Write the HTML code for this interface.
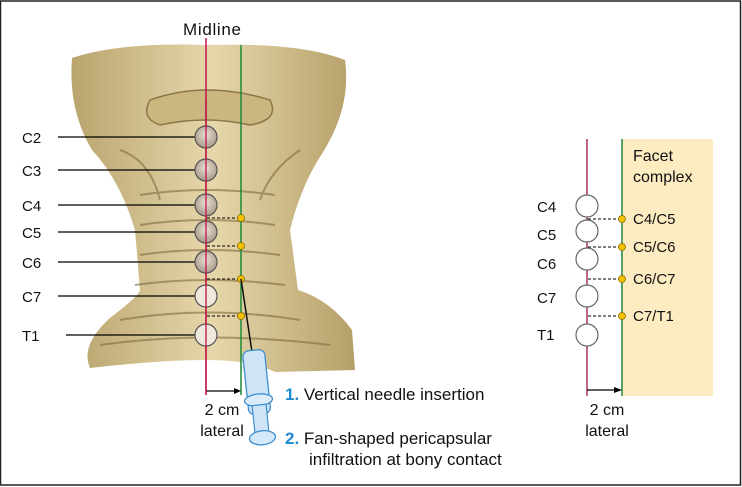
<!DOCTYPE html>
<html><head><style>
html,body{margin:0;padding:0;background:#fff;}
svg{display:block;font-family:"Liberation Sans",sans-serif;}
</style></head><body>
<svg width="742" height="487" viewBox="0 0 742 487" xmlns="http://www.w3.org/2000/svg">
<defs>
<linearGradient id="bone" x1="0" y1="0" x2="1" y2="0">
<stop offset="0" stop-color="#b9a46e"/><stop offset="0.5" stop-color="#e6d7ab"/><stop offset="1" stop-color="#b59f68"/>
</linearGradient>
<radialGradient id="disc" cx="0.5" cy="0.4" r="0.6"><stop offset="0" stop-color="#e8dfd2"/><stop offset="1" stop-color="#a89888"/></radialGradient>
</defs>
<rect x="0.5" y="1" width="740" height="484" fill="#fff" stroke="#222" stroke-width="1.5"/>
<path d="M72 58 Q120 42 206 45 Q300 42 345 60 Q352 110 318 160 Q300 190 290 230 L298 290 Q330 300 352 330 L355 370 L275 372 Q250 360 206 360 Q160 360 90 368 Q80 345 110 318 Q140 295 140 290 L135 230 Q120 180 92 150 Q68 110 72 58 Z" fill="url(#bone)"/>
<path d="M120 150 Q150 160 160 200 M300 150 Q270 170 260 200 M140 195 Q206 185 275 195 M140 225 Q206 215 275 225 M140 255 Q206 245 280 255 M135 285 Q206 275 285 285 M120 320 Q206 305 300 320 M100 345 Q206 330 330 345" stroke="#7e6a3e" stroke-width="2" fill="none" opacity="0.6"/>
<path d="M150 100 Q206 80 270 100 Q280 120 250 125 Q206 115 160 125 Q140 118 150 100 Z" fill="#cbb680" stroke="#8a7646" stroke-width="1.5"/>
<line x1="206" y1="38" x2="206" y2="395" stroke="#c0134a" stroke-width="1.5"/>
<line x1="241" y1="45" x2="241" y2="395" stroke="#1e8a3a" stroke-width="1.5"/>
<line x1="206" y1="391" x2="236" y2="391" stroke="#000" stroke-width="1.2"/>
<path d="M241 391 l-7 -3 v6z" fill="#000"/>
<g stroke="#000" stroke-width="1.2">
<line x1="58" y1="137" x2="196" y2="137"/><line x1="58" y1="170" x2="196" y2="170"/>
<line x1="58" y1="205" x2="196" y2="205"/><line x1="58" y1="232" x2="196" y2="232"/>
<line x1="58" y1="262" x2="196" y2="262"/><line x1="58" y1="296" x2="196" y2="296"/>
<line x1="66" y1="335" x2="196" y2="335"/>
</g>
<g fill="url(#disc)" stroke="#555" stroke-width="1.2">
<circle cx="206" cy="137" r="11"/><circle cx="206" cy="170" r="11"/><circle cx="206" cy="205" r="11"/>
<circle cx="206" cy="232" r="11"/><circle cx="206" cy="262" r="11"/>
</g>
<g fill="#efe8dc" stroke="#555" stroke-width="1.2"><circle cx="206" cy="296" r="11"/><circle cx="206" cy="335" r="11"/></g>
<line x1="206" y1="100" x2="206" y2="395" stroke="#c0134a" stroke-width="1.3"/>
<g stroke="#000" stroke-dasharray="3,2" stroke-width="1"><line x1="207" y1="218" x2="240" y2="218"/><line x1="207" y1="246" x2="240" y2="246"/><line x1="207" y1="279" x2="240" y2="279"/><line x1="207" y1="316" x2="240" y2="316"/></g>
<g fill="#f5c000" stroke="#8a6a00" stroke-width="0.8"><circle cx="241" cy="218" r="3.5"/><circle cx="241" cy="246" r="3.5"/><circle cx="241" cy="279" r="3.5"/><circle cx="241" cy="316" r="3.5"/></g>
<line x1="241" y1="279" x2="252" y2="352" stroke="#111" stroke-width="1.5"/>
<g transform="rotate(-6 258 395)">
<rect x="247" y="350" width="22" height="64" rx="6" fill="#cfe5f7" stroke="#3d8fd0" stroke-width="1.3"/>
<ellipse cx="258" cy="400" rx="14" ry="6" fill="#dcecf9" stroke="#3d8fd0" stroke-width="1.3"/>
<rect x="251" y="405" width="14" height="30" fill="#cfe5f7" stroke="#3d8fd0" stroke-width="1.2"/>
<ellipse cx="258" cy="438" rx="13" ry="7" fill="#d6e9f8" stroke="#3d8fd0" stroke-width="1.3"/>
</g>
<g font-size="15" fill="#111">
<text x="183" y="35" font-size="17" textLength="58">Midline</text>
<text x="22" y="143">C2</text><text x="22" y="176">C3</text><text x="22" y="211">C4</text>
<text x="22" y="238">C5</text><text x="22" y="268">C6</text><text x="22" y="302">C7</text><text x="22" y="341">T1</text>
<text x="222" y="415" text-anchor="middle" font-size="16">2 cm</text><text x="222" y="436" text-anchor="middle" font-size="16">lateral</text>
<g font-size="17">
<text x="285" y="400"><tspan fill="#1f8ad2" font-weight="bold">1.</tspan> Vertical needle insertion</text>
<text x="285" y="444"><tspan fill="#1f8ad2" font-weight="bold">2.</tspan> Fan-shaped pericapsular</text>
<text x="309" y="465">infiltration at bony contact</text>
</g>
</g>
<rect x="622" y="139" width="91" height="257" fill="#fdebc2"/>
<line x1="587" y1="139" x2="587" y2="396" stroke="#9c1440" stroke-width="1.3"/>
<line x1="622" y1="139" x2="622" y2="396" stroke="#1e8a3a" stroke-width="1.5"/>
<line x1="587" y1="390" x2="616" y2="390" stroke="#000" stroke-width="1.2"/>
<path d="M622 390 l-8 -3 v6z" fill="#000"/>
<g fill="#fff" stroke="#666" stroke-width="1.2">
<circle cx="587" cy="206" r="11"/><circle cx="587" cy="231" r="11"/><circle cx="587" cy="259" r="11"/>
<circle cx="587" cy="296" r="11"/><circle cx="587" cy="335" r="11"/>
</g>
<g stroke="#000" stroke-dasharray="3,2" stroke-width="1"><line x1="588" y1="219" x2="621" y2="219"/><line x1="588" y1="247" x2="621" y2="247"/><line x1="588" y1="279" x2="621" y2="279"/><line x1="588" y1="316" x2="621" y2="316"/></g>
<g fill="#f5c000" stroke="#8a6a00" stroke-width="0.8"><circle cx="622" cy="219" r="3.5"/><circle cx="622" cy="247" r="3.5"/><circle cx="622" cy="279" r="3.5"/><circle cx="622" cy="316" r="3.5"/></g>
<g font-size="15" fill="#111">
<text x="633" y="161" font-size="16">Facet</text><text x="633" y="182" font-size="16">complex</text>
<text x="537" y="212">C4</text><text x="537" y="240">C5</text><text x="537" y="269">C6</text><text x="537" y="303">C7</text><text x="537" y="340">T1</text>
<text x="633" y="224">C4/C5</text><text x="633" y="252">C5/C6</text><text x="633" y="284">C6/C7</text><text x="633" y="321">C7/T1</text>
<text x="607" y="415" text-anchor="middle" font-size="16">2 cm</text><text x="607" y="436" text-anchor="middle" font-size="16">lateral</text>
</g>
</svg>
</body></html>
